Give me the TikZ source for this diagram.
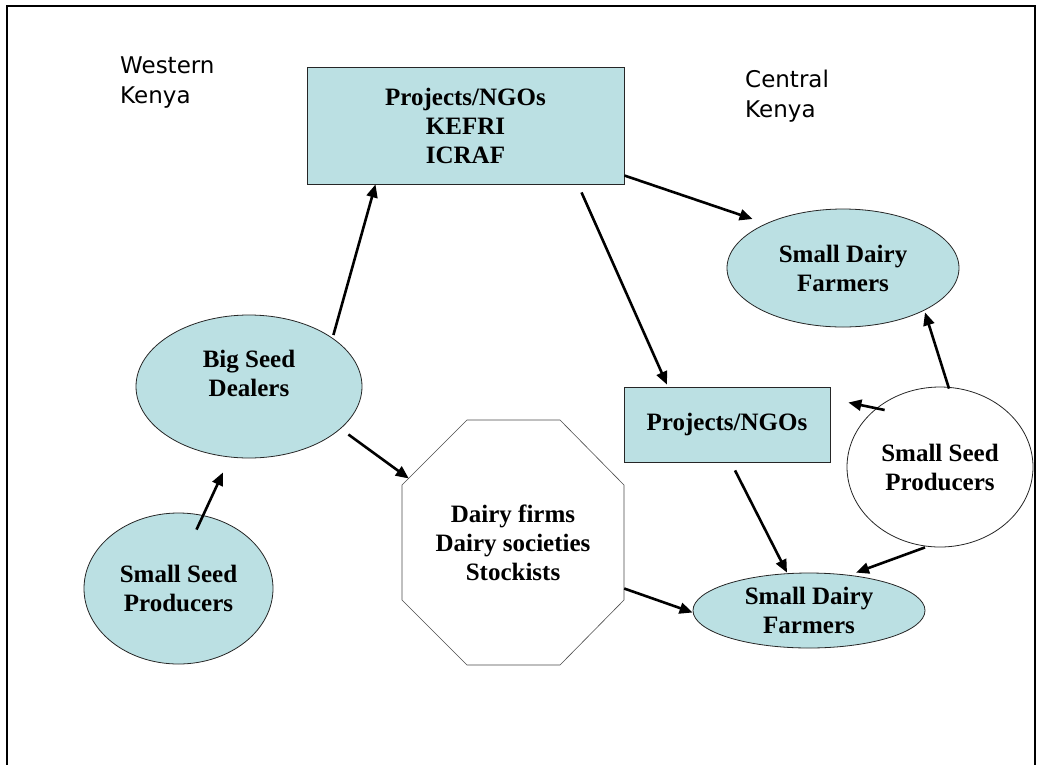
\documentclass[tikz,border=0pt]{standalone}
\usepackage{fontspec}
\setmainfont{Liberation Serif}
\newfontfamily\handfont{DejaVu Sans}
\usepackage{xcolor}
\usepackage{tikz}
\usetikzlibrary{arrows.meta,calc,shapes.geometric}
\definecolor{paleblue}{RGB}{187,224,227}
\newcommand{\nodefont}{\bfseries\fontsize{25}{29}\selectfont}

\begin{document}
\begin{tikzpicture}[
  x=1pt, y=-1pt,
  bx/.style={draw=black!85, line width=0.8pt, fill=paleblue, align=center,
             inner sep=0pt, font=\nodefont},
  ov/.style={ellipse, draw=black!85, line width=0.8pt, fill=paleblue,
             align=center, inner sep=0pt, font=\nodefont},
  octb/.style={align=center, inner sep=0pt, font=\nodefont},
  octline/.style={draw=black!70, line width=0.6pt, fill=white},
  lbl/.style={align=left, inner sep=0pt, anchor=north west,
              font=\handfont\fontsize{23}{30}\selectfont},
  ar/.style={-{Triangle[length=13pt,width=11pt]}, line width=2.6pt}]
\clip (0,0) rectangle (1039,764);
\draw[line width=2pt] (7,6) rectangle (1035,800);
\node[lbl] (west) at (120,57) {Western\\Kenya};
\node[lbl] (central) at (745,70) {Central\\Kenya};
\node[bx, minimum width=317pt, minimum height=117pt] (agencies) at (465.5,125.5) {Projects/NGOs\\KEFRI\\ICRAF};
\node[ov, minimum width=232pt, minimum height=118pt] (dairyC) at (843,268) {Small Dairy\\Farmers};
\node[ov, minimum width=226pt, minimum height=143pt] (dealers) at (249,386.5) {Big Seed\\Dealers\\[-2pt]~};
\node[ov, minimum width=189pt, minimum height=151pt] (seedW) at (178.5,588.5) {Small Seed\\Producers};
% octagon outline, then its text
\path[octline] (402,485) -- (467,420) -- (560,420) -- (624,485)
  -- (624,600) -- (560,665) -- (467,665) -- (402,600) -- cycle;
\node[octb, minimum width=222pt, minimum height=245pt] (firms) at (513,542.5) {Dairy firms\\Dairy societies\\Stockists};
\node[bx, minimum width=206pt, minimum height=75pt] (ngos) at (727,424.5) {Projects/NGOs};
\node[ov, fill=white, minimum width=186pt, minimum height=160pt] (seedC) at (940,467) {Small Seed\\Producers};
\node[ov, minimum width=232pt, minimum height=75pt] (dairyS) at (809,610.5) {Small Dairy\\Farmers};
% western chain
\draw[ar] ($(seedW.north)+(18,17)$) -- ($(dealers.south)+(-26,14)$);
\draw[ar] ($(dealers.east)+(-29,-51.5)$) -- ($(agencies.south)+(-90,0)$);
\draw[ar] ($(dealers.east)+(-14,48)$) -- ($(firms.west)+(7,-64)$);
\draw[ar] ($(firms.east)+(0,46)$) -- ($(dairyS.west)+(0,2)$);
% central chain
\draw[ar] ($(agencies.east)+(0,50)$) -- ($(dairyC.west)+(26,-49)$);
\draw[ar] ($(agencies.south)+(116,8)$) -- ($(ngos.north)+(-60,-2)$);
\draw[ar] ($(ngos.south)+(8,8)$) -- ($(dairyS.north)+(-22,0)$);
\draw[ar] ($(seedC.south)+(-15,0)$) -- ($(dairyS.north)+(47,0)$);
\draw[ar] ($(seedC.west)+(38,-57)$) -- ($(ngos.east)+(18,-22)$);
\draw[ar] ($(seedC.north)+(9,2)$) -- ($(dairyC.south)+(82,-15)$);
\end{tikzpicture}
\end{document}
